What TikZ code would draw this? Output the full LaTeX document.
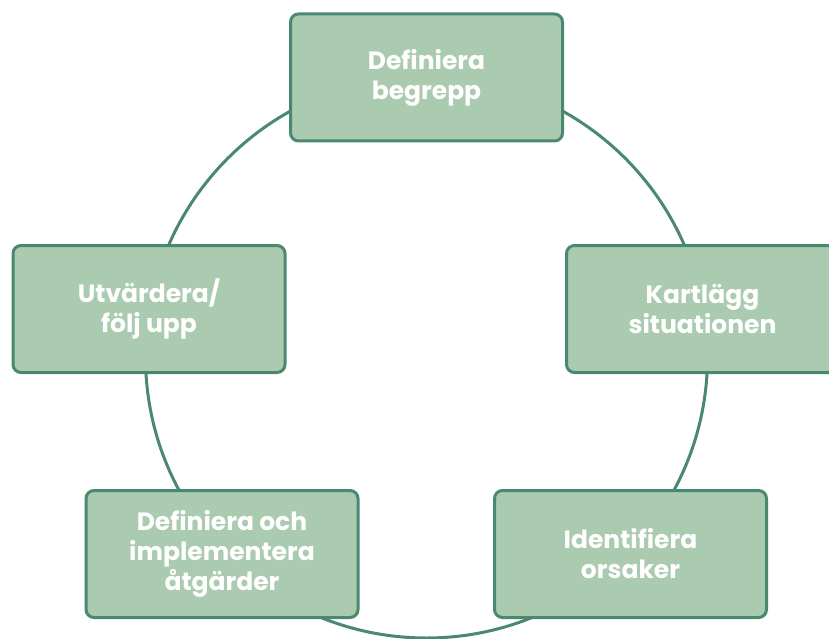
\documentclass[tikz,border=0pt]{standalone}
\usepackage{fontspec}
\setmainfont{Poppins}
\usepackage{tikz}
\usetikzlibrary{positioning,backgrounds}
\usepackage{xcolor}
\definecolor{boxfill}{RGB}{171,203,176}
\definecolor{boxline}{RGB}{74,137,112}
\pgfdeclarelayer{edgelayer}
\pgfsetlayers{edgelayer,main}

\begin{document}
\begin{tikzpicture}[x=1pt,y=-1pt,
  phase/.style={draw=boxline,fill=boxfill,line width=3pt,rounded corners=8pt,
    minimum width=272pt,minimum height=127pt,inner sep=0pt,align=center,
    text=white,font=\fontsize{25}{30}\selectfont\bfseries}]
\clip (0,0) rectangle (829,639);
\node[phase] (D) at (426.5,77.5) {Definiera\\begrepp};
\node[phase] (K) at (702.5,309) {Kartlägg\\situationen};
\node[phase] (I) at (630.5,554) {Identifiera\\orsaker};
\node[phase] (A) at (222,554) {Definiera och\\implementera\\åtgärder};
\node[phase] (U) at (149,309) {Utvärdera/\\följ upp};
\coordinate (O) at (426.5,357);
\begin{pgfonlayer}{edgelayer}
\draw[boxline,line width=3pt] (O) circle (281pt);
\end{pgfonlayer}
\end{tikzpicture}
\end{document}
